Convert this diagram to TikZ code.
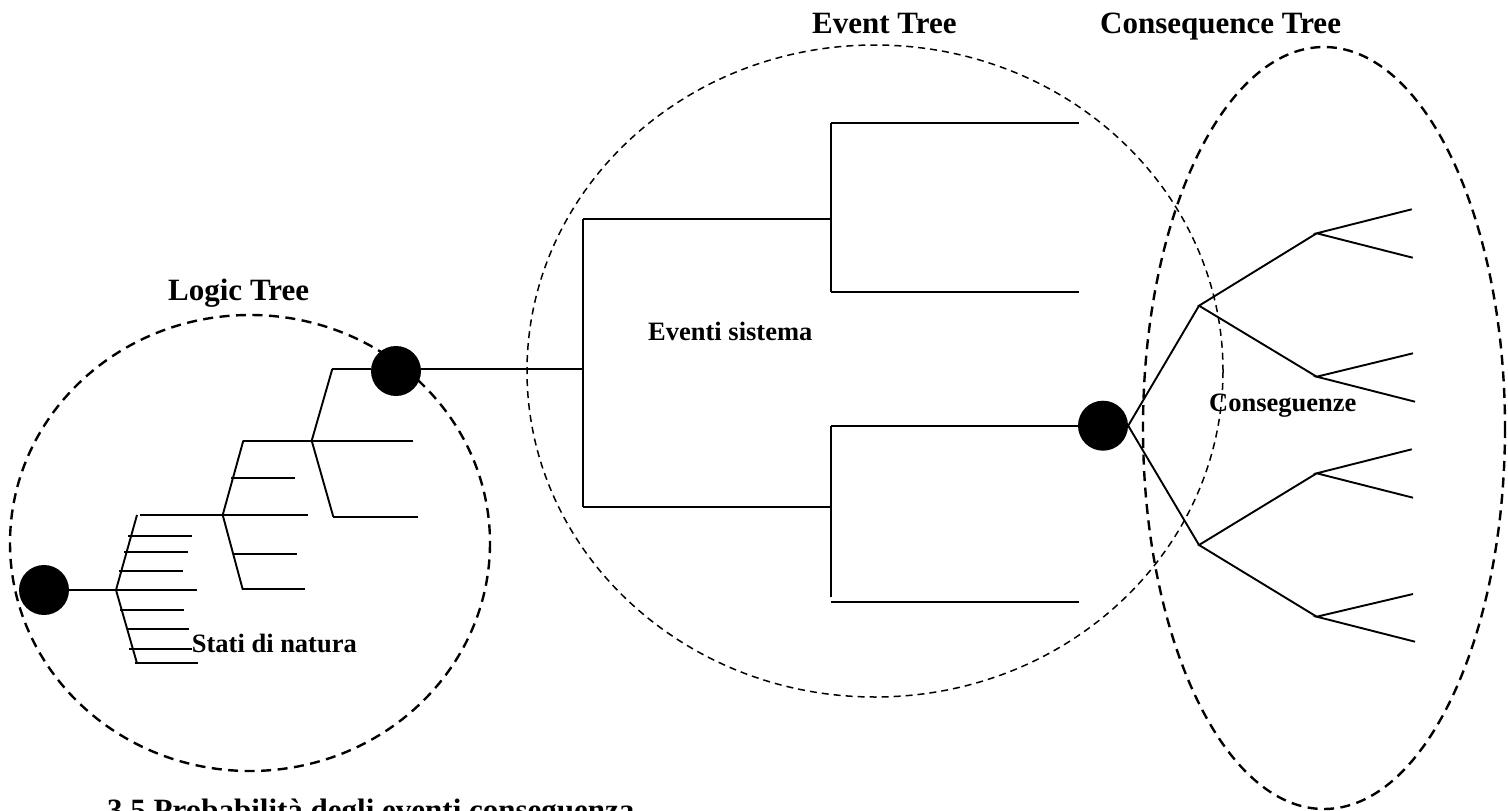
\documentclass[tikz,border=0pt]{standalone}
\usepackage{fontspec}
\setmainfont{Liberation Serif}
\begin{document}
\begin{tikzpicture}[x=1pt,y=-1pt,
  branch/.style={line width=1.9pt,line cap=butt},
  dot/.style={circle,fill=black,minimum size=50pt,inner sep=0pt},
  bigdash/.style={line width=2.4pt,dash pattern=on 10pt off 6.5pt},
  smalldash/.style={line width=1.5pt,dash pattern=on 7pt off 5pt},
  title/.style={font=\bfseries\fontsize{31}{37}\selectfont,inner sep=0pt,anchor=base west},
  label/.style={font=\bfseries\fontsize{26.5}{32}\selectfont,inner sep=0pt,anchor=base west}]
\useasboundingbox (0,0) rectangle (1508,811);

% dashed outlines of the three trees
\draw[bigdash] (250,543) ellipse [x radius=240,y radius=228];
\draw[smalldash] (875,371) ellipse [x radius=348,y radius=326];
\draw[bigdash] (1324,428) ellipse [x radius=181,y radius=381];

% titles and labels
\node[title] (tlogic) at (168,300.7) {Logic Tree};
\node[title] (tevent) at (812,33.3) {Event Tree};
\node[title] (tcons) at (1100,33.3) {Consequence Tree};
\node[label] (lstati) at (191.7,652.7) {Stati di natura};
\node[label] (leventi) at (648,340.7) {Eventi sistema};
\node[label] (lcons) at (1209,411.7) {Conseguenze};
\node[title] (caption) at (107,820) {3.5 Probabilità degli eventi conseguenza};

% logic tree: branch points
\coordinate (a) at (116,590);
\coordinate (at) at (137,515);
\coordinate (ab) at (137,663.3);
\coordinate (b) at (222.7,515);
\coordinate (bt) at (243.3,440.7);
\coordinate (bb) at (242.7,589.3);
\coordinate (c) at (311.7,440.7);
\coordinate (ct) at (332.3,369);
\coordinate (cb) at (333.3,516.7);
\node[dot] (l0) at (44,590) {};
\node[dot] (l1) at (396,371) {};

\draw[branch] (l0) -- (a);
% first fan
\draw[branch] (at) -- (a) -- (ab);
\draw[branch] (140,515) -- (b);
\foreach \ys/\xs/\xe [count=\i] in {535.7/127.7/191.7, 551.7/124/187.7, 570.7/119/182.7,
    590/116/196.7, 610/120/184.3, 628.7/127.7/189.3, 649/129.3/192.3, 663.3/135/198.3}
  \draw[branch] (\xs,\ys) coordinate (as\i) -- (\xe,\ys) coordinate (ae\i);
% second fan
\draw[branch] (bt) -- (b) -- (bb);
\draw[branch] (bt) -- (c);
\draw[branch] (b) -- (308.3,515) coordinate (be0);
\foreach \ys/\xs/\xe [count=\i] in {477.7/231/295, 554.3/233.3/296.7, 589.3/241.7/305}
  \draw[branch] (\xs,\ys) coordinate (bs\i) -- (\xe,\ys) coordinate (be\i);
% third fan
\draw[branch] (ct) -- (c) -- (cb);
\draw[branch] (c) -- (413.3,440.7) coordinate (ce1);
\draw[branch] (cb) -- (418.3,516.7) coordinate (ce2);
\draw[branch] (ct) -- (l1.west |- ct);

% event tree
\coordinate (r) at (583,369);
\coordinate (rt) at (583,219.3);
\coordinate (rb) at (583,507.3);
\coordinate (u) at (830.8,219.3);
\coordinate (ut) at (830.8,123.3);
\coordinate (ub) at (830.8,292);
\coordinate (w) at (830.8,507.3);
\coordinate (wt) at (830.8,425.7);
\coordinate (wb) at (830.8,596.7);
\node[dot] (e) at (1103,425.7) {};

\draw[branch] (l1.east |- r) -- (r);
\draw[branch] (rt) -- (rb);
\draw[branch] (rt) -- (u);
\draw[branch] (rb) -- (w);
\draw[branch] (ut) -- (ub);
\draw[branch] (ut) -- (1079,123.3) coordinate (ue1);
\draw[branch] (ub) -- (1079,292) coordinate (ue2);
\draw[branch] (wt) -- (wb);
\draw[branch] (wt) -- (e);
\draw[branch] (830.8,601.7) coordinate (ws) -- (1079,601.7) coordinate (we);

% consequence tree
\coordinate (f1) at (1199,305.7);
\coordinate (f2) at (1199,545);
\coordinate (g1) at (1316.7,233.3);
\coordinate (g2) at (1316.7,376.7);
\coordinate (g3) at (1316.7,473.3);
\coordinate (g4) at (1316.7,616.7);
\draw[branch] (f1) -- (e.east) -- (f2);
\draw[branch] (g1) -- (f1) -- (g2);
\draw[branch] (g3) -- (f2) -- (g4);
\coordinate (h1) at (1411.7,209.3);
\coordinate (h2) at (1412.7,257.7);
\coordinate (h3) at (1413,353.3);
\coordinate (h4) at (1415,401.7);
\coordinate (h5) at (1411.7,449.3);
\coordinate (h6) at (1413,497.7);
\coordinate (h7) at (1413,594);
\coordinate (h8) at (1415,641.7);
\draw[branch] (h1) -- (g1) -- (h2);
\draw[branch] (h3) -- (g2) -- (h4);
\draw[branch] (h5) -- (g3) -- (h6);
\draw[branch] (h7) -- (g4) -- (h8);
\end{tikzpicture}
\end{document}
